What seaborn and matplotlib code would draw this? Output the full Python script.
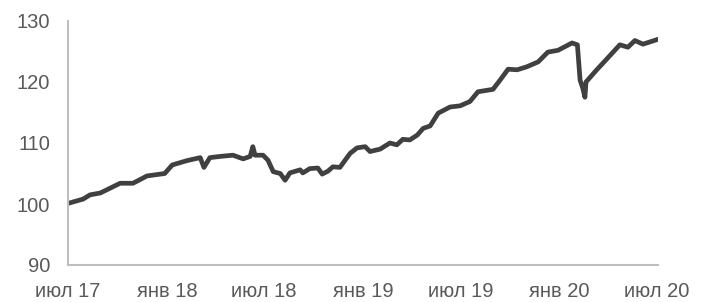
import matplotlib
matplotlib.use("Agg")
import matplotlib.pyplot as plt
import pandas as pd
import seaborn as sns

dates = [
    "2017-07-01", "2017-07-29", "2017-08-11", "2017-08-30", "2017-10-06", "2017-10-30",
    "2017-11-25", "2017-12-28", "2018-01-11", "2018-02-07", "2018-03-04", "2018-03-11",
    "2018-03-22", "2018-04-10", "2018-05-04", "2018-05-23", "2018-06-05", "2018-06-10",
    "2018-06-14", "2018-06-29", "2018-07-08", "2018-07-18", "2018-07-31", "2018-08-09",
    "2018-08-18", "2018-09-06", "2018-09-11", "2018-09-24", "2018-10-09", "2018-10-17",
    "2018-10-28", "2018-11-06", "2018-11-19", "2018-12-08", "2018-12-21", "2019-01-05",
    "2019-01-14", "2019-02-02", "2019-02-20", "2019-03-05", "2019-03-16", "2019-03-29",
    "2019-04-12", "2019-04-23", "2019-05-06", "2019-05-21", "2019-06-12", "2019-07-01",
    "2019-07-19", "2019-08-03", "2019-08-31", "2019-09-13", "2019-09-28", "2019-10-15",
    "2019-11-02", "2019-11-23", "2019-12-11", "2019-12-30", "2020-01-25", "2020-02-04",
    "2020-02-09", "2020-02-14", "2020-02-18", "2020-02-20", "2020-03-11", "2020-03-30",
    "2020-04-23", "2020-05-08", "2020-05-21", "2020-06-05", "2020-07-03",
]
values = [
    100.1, 100.8, 101.5, 101.8, 103.4, 103.4,
    104.6, 105.0, 106.4, 107.1, 107.6, 106.0,
    107.6, 107.8, 108.0, 107.4, 107.8, 109.4,
    108.0, 108.0, 107.2, 105.3, 105.0, 103.9,
    105.1, 105.6, 105.1, 105.8, 105.9, 104.9,
    105.4, 106.1, 106.0, 108.3, 109.2, 109.4,
    108.6, 109.0, 110.0, 109.7, 110.6, 110.5,
    111.3, 112.4, 112.8, 114.9, 115.9, 116.1,
    116.8, 118.4, 118.8, 120.3, 122.1, 122.0,
    122.5, 123.3, 124.9, 125.2, 126.4, 126.1,
    120.3, 119.0, 117.5, 120.0, 122.0, 123.8,
    126.1, 125.7, 126.8, 126.2, 127.0,
]
tick_dates = ["2017-07-01", "2018-01-01", "2018-07-01", "2019-01-01",
              "2019-07-01", "2020-01-01", "2020-07-01"]
tick_labels = ["июл 17", "янв 18", "июл 18", "янв 19", "июл 19", "янв 20", "июл 20"]
y_ticks = [90, 100, 110, 120, 130]

df = pd.DataFrame({"date": pd.to_datetime(dates), "value": values})

sns.set_theme(style="white")
plt.rcParams["font.family"] = ["Liberation Sans", "DejaVu Sans"]

fig = plt.figure(figsize=(7.01, 3.02), dpi=100)
ax = fig.add_axes([68 / 701, 1 - 265 / 302, (658 - 68) / 701, (265 - 21) / 302])

sns.lineplot(data=df, x="date", y="value", ax=ax, color="#404040", linewidth=3.4,
             solid_joinstyle="round", solid_capstyle="round")

ax.set_xlim(pd.Timestamp("2017-07-01"), pd.Timestamp("2020-07-03"))
ax.set_ylim(90, 130)
ax.set_yticks(y_ticks)
ax.set_xticks(pd.to_datetime(tick_dates))
ax.set_xticklabels(tick_labels)
ax.set_xlabel("")
ax.set_ylabel("")

for side in ["top", "right"]:
    ax.spines[side].set_visible(False)
for side in ["left", "bottom"]:
    ax.spines[side].set_color("#bfbfbf")
    ax.spines[side].set_linewidth(1.5)

ax.tick_params(axis="x", direction="in", length=5, width=1.5, color="#bfbfbf",
               labelsize=14.5, labelcolor="#595959", pad=12)
ax.tick_params(axis="y", length=0, labelsize=14.5, labelcolor="#595959", pad=13)

fig.savefig("out.png", dpi=100)
